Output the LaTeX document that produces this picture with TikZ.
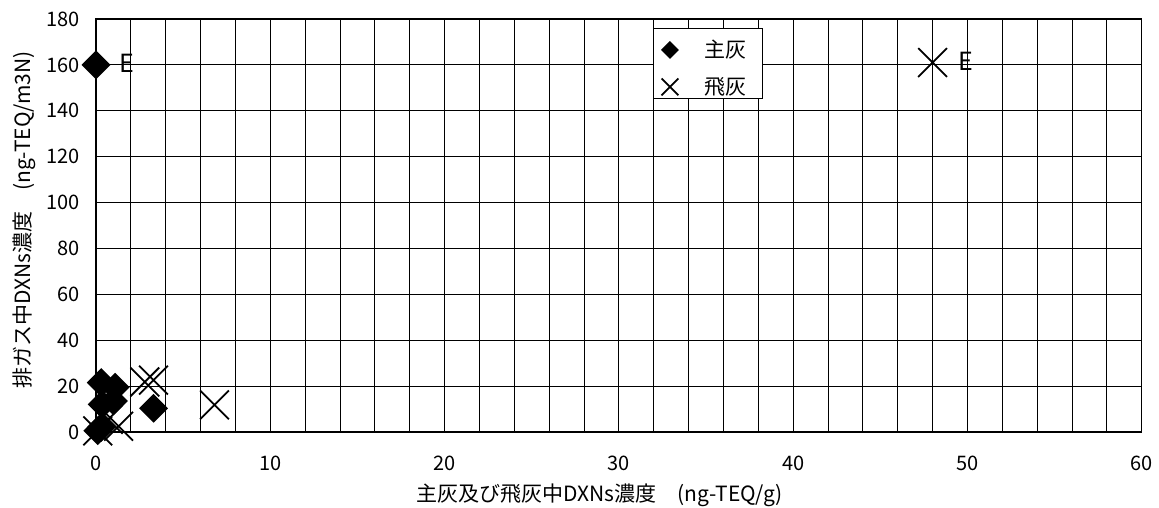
\documentclass[tikz,border=0pt]{standalone}
\usepackage{fontspec}
\setmainfont{Noto Sans CJK JP}
\usetikzlibrary{shapes}

\begin{document}
\begin{tikzpicture}[x=17.43pt,y=2.2944pt]
\tikzstyle{shuhai}=[diamond,fill=black,inner sep=0pt,minimum size=#1]
\tikzstyle{hihai}=[cross out,draw=black,line width=1.8pt,inner sep=0pt,minimum size=#1]
\tikzstyle{tick}=[inner sep=0pt,font=\fontsize{20}{24}\selectfont]
\tikzstyle{title}=[inner sep=0pt,font=\fontsize{21}{24}\selectfont]
\useasboundingbox[fill=white] (-5.508,-33.12) rectangle (60.99,188.28);
\draw[line width=0.8pt,xstep=2,ystep=20] (0,0) grid (60,180);
\draw[line width=1pt] (0,0) rectangle (60,180);

\node[tick](x0) at (0,-13.5) {0};
\node[tick](x10) at (10,-13.5) {10};
\node[tick](x20) at (20,-13.5) {20};
\node[tick](x30) at (30,-13.5) {30};
\node[tick](x40) at (40,-13.5) {40};
\node[tick](x50) at (50,-13.5) {50};
\node[tick](x60) at (60,-13.5) {60};
\node[tick,anchor=east](y0) at (-0.92,0) {0};
\node[tick,anchor=east](y20) at (-0.92,20) {20};
\node[tick,anchor=east](y40) at (-0.92,40) {40};
\node[tick,anchor=east](y60) at (-0.92,60) {60};
\node[tick,anchor=east](y80) at (-0.92,80) {80};
\node[tick,anchor=east](y100) at (-0.92,100) {100};
\node[tick,anchor=east](y120) at (-0.92,120) {120};
\node[tick,anchor=east](y140) at (-0.92,140) {140};
\node[tick,anchor=east](y160) at (-0.92,160) {160};
\node[tick,anchor=east](y180) at (-0.92,180) {180};

\node[title](xlabel) at (28.9,-27.5) {主灰及び飛灰中DXNs濃度　(ng-TEQ/g)};
\node[title,rotate=90](ylabel) at (-4.13,92.4) {排ガス中DXNs濃度　(ng-TEQ/m3N)};

% 主灰
\node[shuhai=29pt](s1) at (0,160) {};
\node[shuhai=29pt](s2) at (0.1,0.5) {};
\node[shuhai=29pt](s3) at (0.3,2) {};
\node[shuhai=29pt](s4) at (0.3,21.5) {};
\node[shuhai=29pt](s5) at (1.1,19.5) {};
\node[shuhai=29pt](s6) at (0.35,12) {};
\node[shuhai=29pt](s7) at (1.0,13.5) {};
\node[shuhai=29pt](s8) at (3.3,10.3) {};

% 飛灰
\node[hihai=27pt](h1) at (48,161) {};
\node[hihai=27pt](h2) at (2.8,21.8) {};
\node[hihai=27pt](h3) at (3.3,22.6) {};
\node[hihai=27pt](h4) at (6.8,11.8) {};
\node[hihai=27pt](h5) at (1.3,2.5) {};
\node[hihai=27pt](h6) at (0.7,5.5) {};
\node[hihai=27pt](h7) at (0.1,0.5) {};

\node[inner sep=0pt,font=\fontsize{25}{28}\selectfont](e1) at (1.78,160.8) {E};
\node[inner sep=0pt,font=\fontsize{25}{28}\selectfont](e2) at (49.9,161.7) {E};

% legend
\node[draw=black,fill=white,line width=1pt,minimum width=109pt,minimum height=70pt](legend) at (35.1,160.4) {};
\node[shuhai=18pt](ls) at (32.93,166.5) {};
\node[title](lst) at (36.14,166.5) {主灰};
\node[hihai=15pt](lh) at (32.93,150.4) {};
\node[title](lht) at (36.14,150.4) {飛灰};
\end{tikzpicture}
\end{document}
